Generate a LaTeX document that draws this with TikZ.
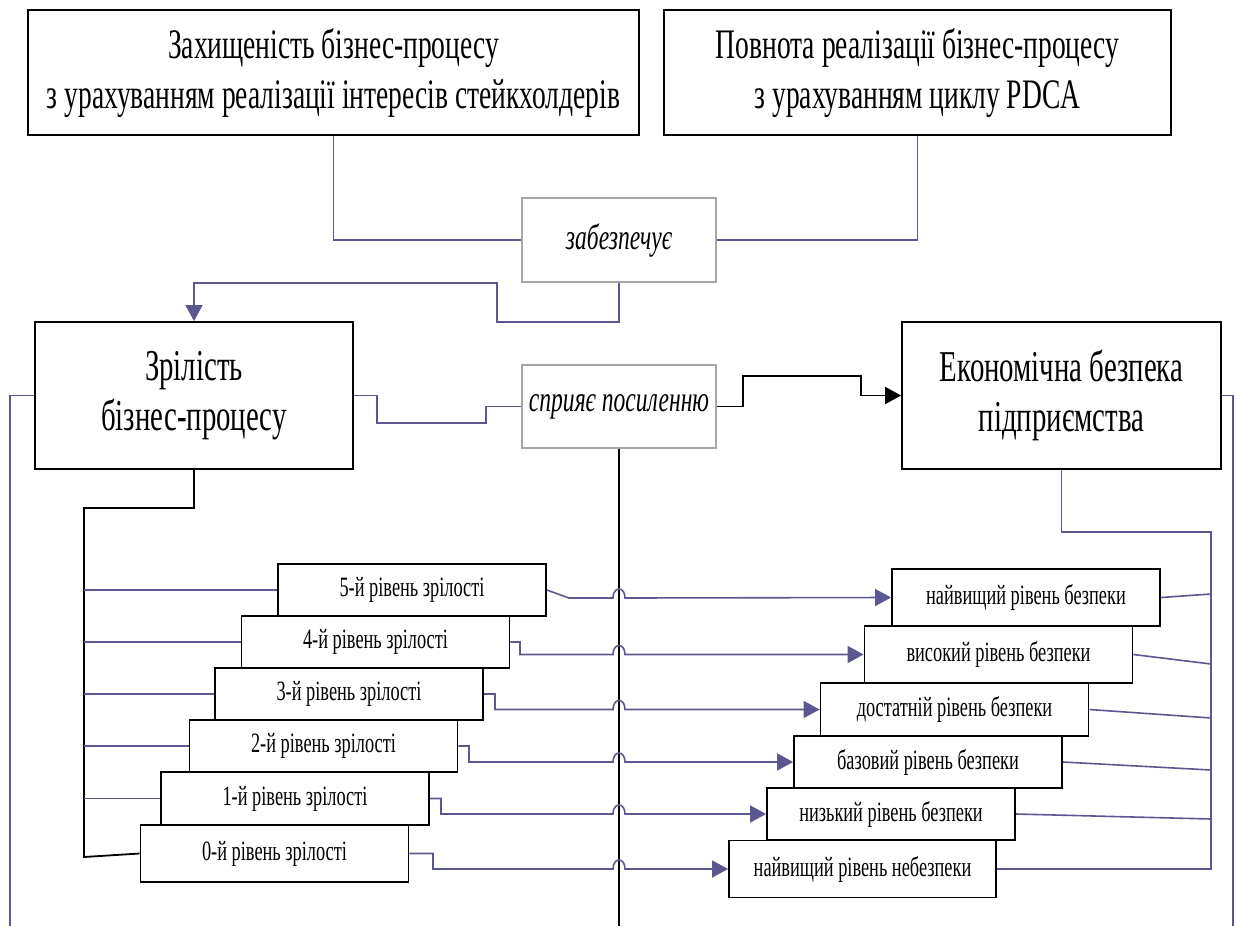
\documentclass[tikz,border=0pt]{standalone}
\usepackage{fontspec}
\setmainfont[FakeStretch=0.655]{Liberation Serif}
\usetikzlibrary{arrows.meta}
\definecolor{linkpurple}{HTML}{5B5790}
\definecolor{labelgray}{HTML}{A6A6A6}

\begin{document}
\begin{tikzpicture}[x=1pt,y=-1pt,
  big/.style={draw,line width=1.8pt,align=center,inner sep=0pt,font=\fontsize{42}{50}\selectfont},
  mid/.style={draw,line width=1.8pt,align=center,inner sep=0pt,font=\fontsize{44}{50}\selectfont},
  verb/.style={draw=labelgray,line width=1.5pt,minimum width=194pt,align=center,inner sep=0pt,font=\itshape\fontsize{36}{40}\selectfont},
  lvl/.style={draw,fill=white,line width=1.8pt,minimum width=268pt,align=center,inner sep=0pt,font=\fontsize{28}{32}\selectfont},
  link/.style={draw=linkpurple,line width=1.6pt},
  flow/.style={draw=black,line width=1.8pt},
  tip/.style={-{Triangle[length=16pt,width=17pt]}}]
\useasboundingbox (0,0) rectangle (1238,926);
% top row
\node[big,minimum width=611pt,minimum height=125pt] (prot) at (333.5,72.5) {Захищеність бізнес-процесу\\з урахуванням реалізації інтересів стейкхолдерів};
\node[big,minimum width=507pt,minimum height=125pt] (pdca) at (917.5,72.5) {Повнота реалізації бізнес-процесу\\з урахуванням циклу PDCA};
\node[verb,minimum height=84pt] (ensure) at (619,240) {забезпечує};
% middle row
\node[mid,minimum width=318pt,minimum height=147pt] (maturity) at (194,395.5) {Зрілість\\бізнес-процесу};
\node[verb,minimum height=83pt] (promote) at (619,406.5) {сприяє посиленню};
\node[mid,minimum width=319pt,minimum height=147pt] (security) at (1061.5,395.5) {Економічна безпека\\підприємства};
% maturity levels
\node[lvl,minimum height=52pt] (m5) at (412,590) {5-й рівень зрілості};
\node[lvl,minimum height=52pt] (m4) at (375.5,642) {4-й рівень зрілості};
\node[lvl,minimum height=52pt] (m3) at (349,694) {3-й рівень зрілості};
\node[lvl,minimum height=52pt] (m2) at (323.5,746) {2-й рівень зрілості};
\node[lvl,minimum height=53pt] (m1) at (295,798.5) {1-й рівень зрілості};
\node[lvl,minimum height=57pt] (m0) at (274.5,853.5) {0-й рівень зрілості};
% security levels
\node[lvl,minimum height=57pt] (r5) at (1026,597.5) {найвищий рівень безпеки};
\node[lvl,minimum height=57pt] (r4) at (998.5,654.5) {високий рівень безпеки};
\node[lvl,minimum height=53pt] (r3) at (954.5,709.5) {достатній рівень безпеки};
\node[lvl,minimum height=52pt] (r2) at (928,762) {базовий рівень безпеки};
\node[lvl,minimum height=52pt,minimum width=248pt] (r1) at (891,814) {низький рівень безпеки};
\node[lvl,minimum height=57pt,minimum width=267pt] (r0) at (862.5,869) {найвищий рівень небезпеки};
% spine points
\coordinate (lspine) at (84,508);
\coordinate (rspine) at (1211,532);
\coordinate (axis) at (619,926);
\coordinate (leftedge) at (10,926);
\coordinate (rightedge) at (1233,926);
\coordinate (t5) at (1211,594);
\coordinate (t4) at (1211,664);
\coordinate (t3) at (1211,718);
\coordinate (t2) at (1211,770);
\coordinate (t1) at (1211,819);
% upper connectors
\draw[link] (prot.south) |- (ensure.west);
\draw[link] (pdca.south) |- (ensure.east);
\draw[link,tip] (ensure.south) |- (497,322) -- (497,283) -| (maturity.north);
\draw[link] (maturity.west) -| (leftedge);
\draw[link] (maturity.east) -- ++(23,0) |- (486,423) |- (promote.west);
\draw[flow,tip] (promote.east) -- ++(26,0) |- (861,376) |- (security.west);
\draw[flow] (promote.south) -- (axis);
\draw[link] (security.east) -| (rightedge);
% left spine
\draw[flow] (maturity.south) |- (lspine) -- (84,857) -- (m0.west);
\draw[link] (m5.west) -- (m5.west -| lspine);
\draw[link] (m4.west) -- (m4.west -| lspine);
\draw[link] (m3.west) -- (m3.west -| lspine);
\draw[link] (m2.west) -- (m2.west -| lspine);
\draw[link] (m1.west) -- (m1.west -| lspine);
% level links, hopping over the axis
\draw[link,tip] (m5.east) -- (569,598) -- (613,598) .. controls (613,586) and (625,586) .. (625,598) -- (r5.west);
\draw[link,tip] (m4.east) -- (520,642) -- (520,654.5) -- (613,654.5) .. controls (613,642.5) and (625,642.5) .. (625,654.5) -- (r4.west);
\draw[link,tip] (m3.east) -- (495,694) -- (495,709.5) -- (613,709.5) .. controls (613,697.5) and (625,697.5) .. (625,709.5) -- (r3.west);
\draw[link,tip] (m2.east) -- (469,746) -- (469,762) -- (613,762) .. controls (613,750) and (625,750) .. (625,762) -- (r2.west);
\draw[link,tip] (m1.east) -- (441,798.5) -- (441,814) -- (613,814) .. controls (613,802) and (625,802) .. (625,814) -- (r1.west);
\draw[link,tip] (m0.east) -- (433,853.5) -- (433,869) -- (613,869) .. controls (613,857) and (625,857) .. (625,869) -- (r0.west);
% right spine
\draw[link] (security.south) |- (rspine) |- (r0.east);
\draw[link] (r5.east) -- (t5);
\draw[link] (r4.east) -- (t4);
\draw[link] (r3.east) -- (t3);
\draw[link] (r2.east) -- (t2);
\draw[link] (r1.east) -- (t1);
\end{tikzpicture}
\end{document}
